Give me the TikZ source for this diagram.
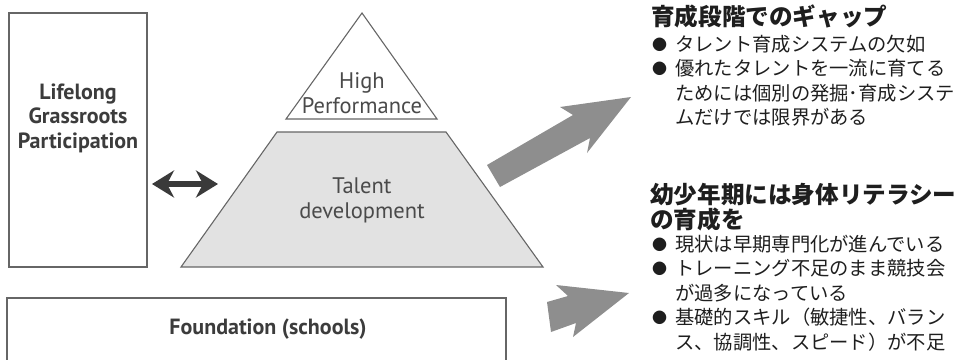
\documentclass[tikz,border=0pt]{standalone}
\usepackage{fontspec}
\setmainfont{PT Sans}
\newfontfamily\jpfont{Noto Sans CJK JP}
\usetikzlibrary{arrows.meta,positioning}
\definecolor{linegray}{HTML}{666666}
\definecolor{txtgray}{HTML}{3C3C3C}
\definecolor{pyrtxt}{HTML}{4A4A4A}
\definecolor{pyrfill}{HTML}{E2E2E2}
\definecolor{arrowgray}{HTML}{8E8E8E}
\definecolor{darkarrow}{HTML}{3A3A3A}
\definecolor{jptxt}{HTML}{1E1E1E}
\newcommand\jpbullet{\makebox[23pt][l]{\raisebox{1.2pt}{\fontsize{15}{15}\selectfont ●}}}
\newcommand\jpindent{\hspace*{23pt}}

\begin{document}
\begin{tikzpicture}[x=1pt, y=-1pt,
  box/.style={draw=linegray, line width=1.1pt},
  pyr/.style={draw=linegray, line width=1.1pt},
  bigtext/.style={font=\fontsize{22}{24.5}\selectfont\bfseries, text=txtgray, align=center, inner sep=0pt},
  pyrtext/.style={font=\fontsize{22.5}{25}\selectfont, text=pyrtxt, align=center, inner sep=0pt},
  blockarrow/.style={fill=arrowgray},
  twoway/.style={{Stealth[length=22pt,width=27pt,inset=7pt]}-{Stealth[length=22pt,width=27pt,inset=7pt]}, line width=6.5pt, draw=darkarrow},
  jphd/.style={font=\jpfont\fontsize{23.6}{25}\selectfont\bfseries, text=jptxt, anchor=north west, inner sep=0pt, align=left},
  jpitems/.style={font=\jpfont\fontsize{19.3}{24.4}\selectfont, text=jptxt, anchor=north west, inner sep=0pt, align=left}]
\useasboundingbox (0,0) rectangle (971,359);

% left box and two-way arrow
\draw[box] (9,13) rectangle (147,267);
\node[bigtext] (lifelong) at (78,118) {Lifelong\\Grassroots\\Participation};
\coordinate (leftend) at (152,184);
\coordinate (rightend) at (218,184);
\draw[twoway] (leftend) -- (rightend);

% pyramid
\draw[pyr, fill=white] (362,13) -- (437,119) -- (286,119) -- cycle;
\node[pyrtext] (high) at (362,93) {High\\Performance};
\draw[pyr, fill=pyrfill] (277,132) -- (446,132) -- (543,267) -- (181,267) -- cycle;
\node[pyrtext] (talent) at (362,200) {Talent\\development};

% foundation
\draw[box] (7,298) rectangle (506,380);
\node[bigtext] (found) at (268,329) {Foundation (schools)};

% gray arrows
\fill[blockarrow] (487,165) -- (573,115) -- (560,107) -- (631,97) -- (587,153) -- (590,138) -- (500,187) -- cycle;
\fill[blockarrow] (547,302) -- (568,296) -- (556,285) -- (629,293) -- (573,337) -- (576,323) -- (551,332) -- cycle;

% right texts
\node[jphd] (gaphead) at (651,5) {育成段階でのギャップ};
\node[jpitems] (gaplist) at (652,35) {\jpbullet タレント育成システムの欠如\\\jpbullet 優れたタレントを一流に育てる\\\jpindent ためには個別の発掘･育成システ\\\jpindent ムだけでは限界がある};
\node[jphd] (kidshead) at (650,183) {幼少年期には身体リテラシー\\の育成を};
\node[jpitems] (kidslist) at (652,235) {\jpbullet 現状は早期専門化が進んでいる\\\jpbullet トレーニング不足のまま競技会\\\jpindent が過多になっている\\\jpbullet 基礎的スキル（敏捷性、バラン\\\jpindent ス、協調性、スピード）が不足};
\end{tikzpicture}
\end{document}
